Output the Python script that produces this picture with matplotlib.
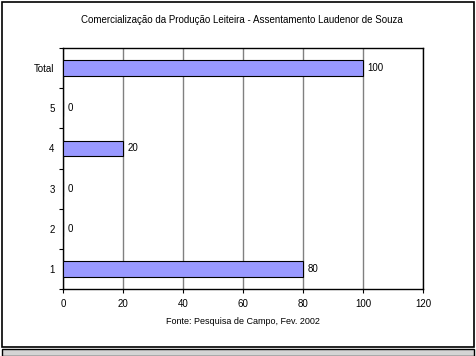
import numpy as np
import matplotlib.pyplot as plt
from matplotlib.patches import Rectangle

categorias = ['1', '2', '3', '4', '5', 'Total']
valores = [80, 0, 0, 20, 0, 100]

plt.rcParams['font.family'] = ['Liberation Sans', 'DejaVu Sans']

fig = plt.figure(figsize=(4.77, 3.56), dpi=100)
W, H = 477, 356

# moldura externa branca e faixa cinza inferior
fig.patches.append(Rectangle((2 / W, 1 - 347 / H), 472 / W, 345 / H, transform=fig.transFigure,
                             facecolor='white', edgecolor='black', linewidth=1.2, zorder=-10))
fig.patches.append(Rectangle((2 / W, 0), 472 / W, 1 - 349 / H, transform=fig.transFigure,
                             facecolor='#d4d4d4', edgecolor='black', linewidth=1.0, zorder=-10))

ax = fig.add_axes([63 / W, 1 - 289 / H, 360 / W, 241 / H])
ax.set_zorder(5)
y = np.arange(len(categorias))
ax.barh(y, valores, height=0.38, color='#9999ff', edgecolor='black', linewidth=0.8, zorder=3)

for yi, v in zip(y, valores):
    ax.text(v + 1.5, yi, str(v), va='center', ha='left', fontsize=7)

ax.set_xlim(0, 120)
ax.set_ylim(-0.5, len(categorias) - 0.5)
ax.set_xticks(np.arange(0, 121, 20))
ax.set_yticks(y)
ax.set_yticklabels(categorias)
ax.set_yticks(np.arange(-0.5, len(categorias), 1), minor=True)
ax.tick_params(axis='y', which='major', length=0, labelsize=7, pad=6)
ax.tick_params(axis='y', which='minor', length=3, width=0.8)
ax.tick_params(axis='x', length=3, width=0.8, labelsize=7, pad=4)
ax.xaxis.grid(True, color='#808080', linewidth=1.0, zorder=0)
ax.set_axisbelow(True)
for s in ax.spines.values():
    s.set_linewidth(1.0)
ax.set_xlabel('Fonte: Pesquisa de Campo, Fev. 2002', fontsize=6.5, labelpad=6)

fig.text(242 / W, 1 - 20 / H,
         'Comercialização da Produção Leiteira - Assentamento Laudenor de Souza',
         ha='center', va='center', fontsize=7)

plt.savefig('out.png', dpi=100)
